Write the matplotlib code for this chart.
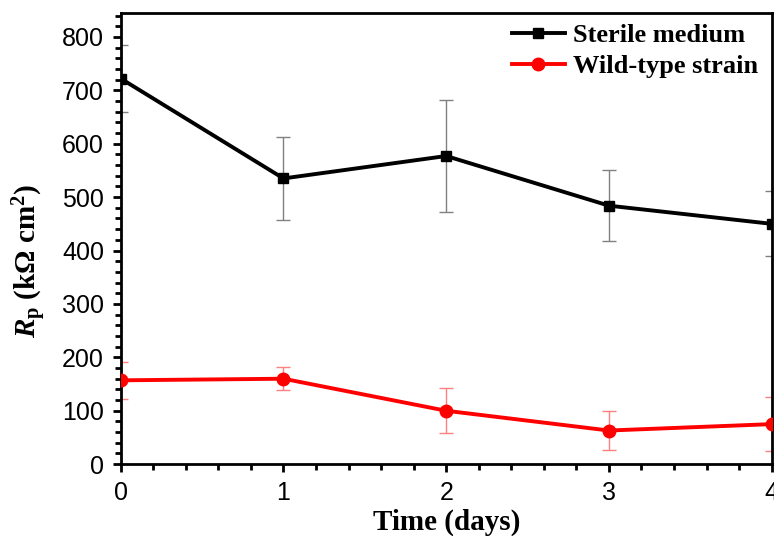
import matplotlib
matplotlib.use("Agg")
import matplotlib.pyplot as plt
from matplotlib.ticker import MultipleLocator

days = [0, 1, 2, 3, 4]
sterile = [722, 535, 577, 484, 450]
sterile_err = [62, 78, 104, 67, 61]
wild = [157, 160, 100, 63, 75]
wild_err = [35, 22, 42, 37, 50]

plt.rcParams['mathtext.fontset'] = 'custom'
plt.rcParams['mathtext.rm'] = 'Liberation Serif:bold'
plt.rcParams['mathtext.it'] = 'Liberation Serif:bold:italic'
plt.rcParams['mathtext.bf'] = 'Liberation Serif:bold'

fig = plt.figure(figsize=(7.74, 5.36), dpi=100)
ax = fig.add_axes([0.156, 0.134, 0.841, 0.842])

ax.errorbar(days, sterile, yerr=sterile_err, fmt='none', ecolor='#808080',
            elinewidth=1.0, capsize=5, capthick=1.0, zorder=2)
ax.plot(days, sterile, color='black', lw=2.8, marker='s', ms=7,
        label='Sterile medium', zorder=3)
ax.errorbar(days, wild, yerr=wild_err, fmt='none', ecolor='#ff8080',
            elinewidth=1.0, capsize=5, capthick=1.0, zorder=2)
ax.plot(days, wild, color='red', lw=2.8, marker='o', ms=9,
        label='Wild-type strain', zorder=3)

ax.set_xlim(0, 4)
ax.set_ylim(0, 845)
ax.xaxis.set_major_locator(MultipleLocator(1))
ax.xaxis.set_minor_locator(MultipleLocator(0.2))
ax.yaxis.set_major_locator(MultipleLocator(100))
ax.yaxis.set_minor_locator(MultipleLocator(20))
ax.tick_params(which='major', direction='out', length=6, width=2,
               labelsize=18, pad=6, top=False, right=False)
ax.tick_params(which='minor', direction='out', length=4, width=2,
               top=False, right=False)
for lab in ax.get_xticklabels() + ax.get_yticklabels():
    lab.set_family('Liberation Sans')
for s in ax.spines.values():
    s.set_linewidth(2)

ax.set_xlabel('Time (days)', family='Liberation Serif', weight='bold', fontsize=21, labelpad=3)
ax.set_ylabel(r'$R_\mathrm{p}$ (kΩ cm$^\mathrm{2}$)', family='Liberation Serif',
              weight='bold', fontsize=21)
ax.yaxis.set_label_coords(-0.11, 0.45)

leg = ax.legend(loc='upper right', frameon=False,
                prop={'family': 'Liberation Serif', 'weight': 'bold', 'size': 19},
                handlelength=2.0, handletextpad=0.3, borderaxespad=0.0,
                labelspacing=0.3, bbox_to_anchor=(0.995, 1.0))

fig.savefig('out.png', dpi=100)
